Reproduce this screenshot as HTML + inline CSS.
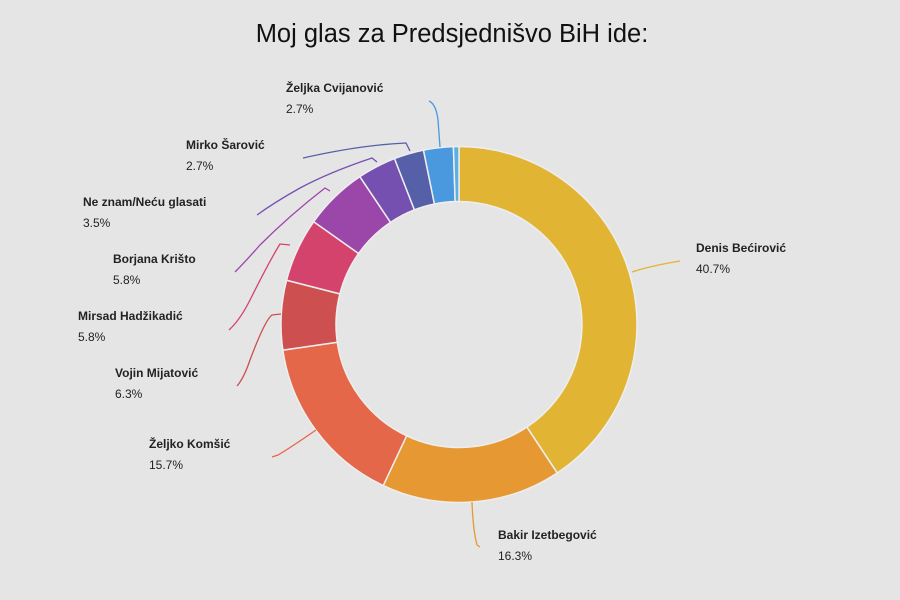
<!DOCTYPE html>
<html><head><meta charset="utf-8"><style>
html,body{margin:0;padding:0;background:#e5e5e5;}
svg{display:block;font-family:"Liberation Sans",Arial,sans-serif;}
</style></head><body>
<svg id="s" width="900" height="600" viewBox="0 0 900 600">
<rect width="900" height="600" fill="#e5e5e5"/>
<text x="452" y="42" font-size="25.5" text-anchor="middle" fill="#111">Moj glas za Predsjednišvo BiH ide:</text>
<g id="arcs"></g>
<g fill="none" stroke-width="1.3">
<path d="M632,272 Q650,266 680,261" stroke="#e2b433"/>
<path d="M472,502 Q473,530 477,545 L480,547" stroke="#e59934"/>
<path d="M316,430 Q290,448 278,455 L272,457" stroke="#e5674a"/>
<path d="M281,314 L272,315 Q265,320 250,360 Q244,378 237,386" stroke="#cd4f4f"/>
<path d="M290,245 L280,244 Q270,260 250,300 Q240,320 229,330" stroke="#d4436b"/>
<path d="M330,191 L325,188 Q290,215 260,245 Q245,262 235,272" stroke="#9b46a9"/>
<path d="M377,162 L372,158 Q330,172 300,188 Q275,202 257,215" stroke="#7650b0"/>
<path d="M410,151 L406,143 Q360,145 303,158" stroke="#5560a8"/>
<path d="M440,147 L438,120 Q436,104 429,101" stroke="#4a98de"/>
</g>
<g font-size="12" fill="#222">
<text x="696" y="252" font-weight="bold">Denis Bećirović</text><text x="696" y="273">40.7%</text>
<text x="498" y="539" font-weight="bold">Bakir Izetbegović</text><text x="498" y="560">16.3%</text>
<text x="149" y="448" font-weight="bold">Željko Komšić</text><text x="149" y="469">15.7%</text>
<text x="115" y="377" font-weight="bold">Vojin Mijatović</text><text x="115" y="398">6.3%</text>
<text x="78" y="320" font-weight="bold">Mirsad Hadžikadić</text><text x="78" y="341">5.8%</text>
<text x="113" y="263" font-weight="bold">Borjana Krišto</text><text x="113" y="284">5.8%</text>
<text x="83" y="206" font-weight="bold">Ne znam/Neću glasati</text><text x="83" y="227">3.5%</text>
<text x="186" y="149" font-weight="bold">Mirko Šarović</text><text x="186" y="170">2.7%</text>
<text x="286" y="92" font-weight="bold">Željka Cvijanović</text><text x="286" y="113">2.7%</text>
</g>
</svg>
<script>
(function(){
var cx=459,cy=324.5,R=178,r=123;
var d=[[40.7,"#e2b433"],[16.3,"#e69933"],[15.7,"#e5674a"],[6.3,"#cd4f4f"],[5.8,"#d4436b"],[5.8,"#9b46a9"],[3.5,"#7650b0"],[2.7,"#5560a8"],[2.7,"#4a98de"],[0.5,"#5ab0e0"]];
var tot=0;d.forEach(function(x){tot+=x[0];});
var a=0,g=document.getElementById("arcs"),h="";
function pt(rad,ang){return [cx+rad*Math.sin(ang),cy-rad*Math.cos(ang)];}
d.forEach(function(x){
var a0=a/tot*2*Math.PI;a+=x[0];var a1=a/tot*2*Math.PI;
var lg=(a1-a0)>Math.PI?1:0;
var p1=pt(R,a0),p2=pt(R,a1),p3=pt(r,a1),p4=pt(r,a0);
h+='<path d="M'+p1+' A'+R+','+R+' 0 '+lg+' 1 '+p2+' L'+p3+' A'+r+','+r+' 0 '+lg+' 0 '+p4+' Z" fill="'+x[1]+'" stroke="#eeeeee" stroke-width="1.5"/>';
});
g.innerHTML=h;
})();
</script>
</body></html>
